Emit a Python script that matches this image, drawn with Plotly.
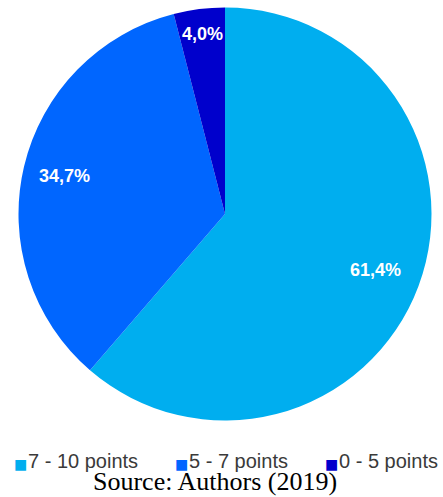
import math
import plotly.graph_objects as go

categories = ["7 - 10 points", "5 - 7 points", "0 - 5 points"]
values = [61.4, 34.7, 4.0]
text_labels = ["61,4%", "34,7%", "4,0%"]
colors = ["#00AEEF", "#0066FF", "#0000CC"]

W, H = 443, 497
CX, CY, R = 225.0, 214.0, 206.5  # pie centre / radius in px
label_frac = [0.78, 0.80, 0.88]  # radial position of labels
legend_x = [14, 175, 325]        # legend entry left edges in px
legend_y = 461

fig = go.Figure(go.Pie(
    labels=categories,
    values=values,
    textinfo="none",
    marker=dict(colors=colors, line=dict(width=0)),
    sort=False,
    direction="clockwise",
    rotation=0,
    domain=dict(x=[(CX - R) / W, (CX + R) / W], y=[1 - (CY + R) / H, 1 - (CY - R) / H]),
    hoverinfo="label+percent",
))

# slice labels placed at each slice's mid-angle (computed from values)
total = sum(values)
annotations = []
cum = 0.0
for v, t, f in zip(values, text_labels, label_frac):
    mid = (cum + v / 2) / total * 2 * math.pi
    cum += v
    px = CX + f * R * math.sin(mid)
    py = CY - f * R * math.cos(mid)
    annotations.append(dict(
        text=f"<b>{t}</b>", x=px / W, y=1 - py / H, xref="paper", yref="paper",
        xanchor="center", yanchor="middle", showarrow=False,
        font=dict(family="Liberation Sans Narrow, Arial Narrow, Liberation Sans", size=18, color="white"),
    ))

# legend built from the categories and colours
for cat, col, lx in zip(categories, colors, legend_x):
    annotations.append(dict(
        text="■", x=(lx - 1) / W, y=1 - (legend_y + 3) / H, xref="paper", yref="paper",
        xanchor="left", yanchor="middle", showarrow=False, borderpad=0,
        font=dict(family="DejaVu Sans", size=14, color=col),
    ))
    annotations.append(dict(
        text=cat, x=(lx + 13) / W, y=1 - legend_y / H, xref="paper", yref="paper",
        xanchor="left", yanchor="middle", showarrow=False, borderpad=0,
        font=dict(family="Liberation Sans, Arial", size=20, color="#3a3a3a"),
    ))

annotations.append(dict(
    text="Source: Authors (2019)",
    x=215 / W, xref="paper", xanchor="center",
    y=0, yref="paper", yanchor="bottom", borderpad=0,
    showarrow=False,
    font=dict(family="Liberation Serif, Times New Roman", size=26, color="black"),
))

fig.update_layout(
    width=W, height=H,
    margin=dict(l=0, r=0, t=0, b=0),
    paper_bgcolor="white",
    plot_bgcolor="white",
    showlegend=False,
    annotations=annotations,
)

fig.write_html("out.html", config={"displayModeBar": False},
               post_script="document.body.style.margin='0';")
